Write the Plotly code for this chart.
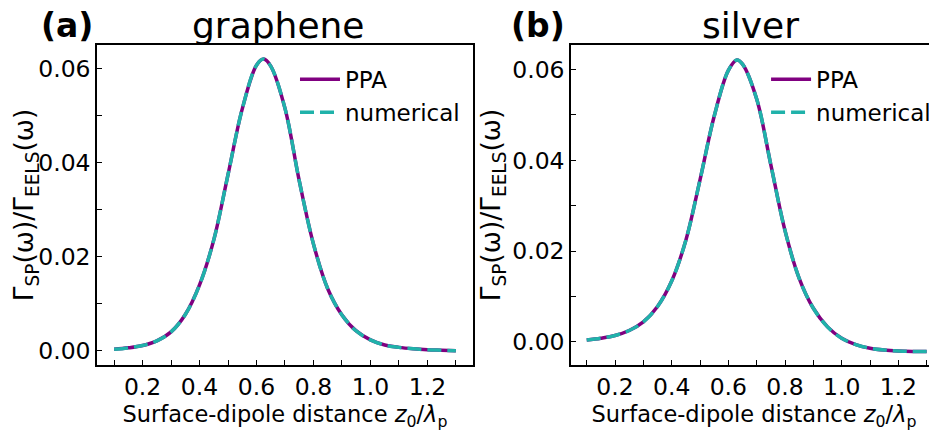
import plotly.graph_objects as go

# values
x_graphene = [0.10, 0.15, 0.20, 0.25, 0.30, 0.35, 0.40, 0.45, 0.50, 0.55, 0.60, 0.625,
              0.65, 0.70, 0.75, 0.80, 0.85, 0.90, 0.95, 1.00, 1.05, 1.10, 1.15, 1.20, 1.25, 1.30]
ppa_graphene = [0.0003, 0.0006, 0.0011, 0.0021, 0.0040, 0.0077, 0.0140, 0.0236, 0.0375, 0.0515,
                0.0608, 0.0621, 0.0606, 0.0516, 0.0362, 0.0227, 0.0132, 0.0076, 0.0042, 0.0023,
                0.0012, 0.0007, 0.0004, 0.0002, 0.0001, 0.0000]
num_graphene = [0.0003, 0.0006, 0.0011, 0.0021, 0.0040, 0.0077, 0.0140, 0.0236, 0.0375, 0.0515,
                0.0608, 0.0621, 0.0606, 0.0516, 0.0362, 0.0227, 0.0132, 0.0076, 0.0042, 0.0023,
                0.0012, 0.0007, 0.0004, 0.0002, 0.0001, 0.0000]

x_silver = [0.10, 0.15, 0.20, 0.25, 0.30, 0.35, 0.40, 0.45, 0.50, 0.55, 0.60, 0.63,
            0.65, 0.70, 0.75, 0.80, 0.85, 0.90, 0.95, 1.00, 1.05, 1.10, 1.15, 1.20, 1.25, 1.30]
ppa_silver = [0.0004, 0.0008, 0.0014, 0.0025, 0.0044, 0.0078, 0.0134, 0.0224, 0.0357, 0.0497,
              0.0598, 0.0621, 0.0612, 0.0535, 0.0390, 0.0245, 0.0140, 0.0074, 0.0033, 0.0008,
              -0.0006, -0.0014, -0.0018, -0.0020, -0.0021, -0.0021]
num_silver = [0.0004, 0.0008, 0.0014, 0.0025, 0.0044, 0.0078, 0.0134, 0.0224, 0.0357, 0.0497,
              0.0598, 0.0621, 0.0612, 0.0535, 0.0390, 0.0245, 0.0140, 0.0074, 0.0033, 0.0008,
              -0.0006, -0.0014, -0.0018, -0.0020, -0.0021, -0.0021]

panel_titles = ["graphene", "silver"]
panel_tags = ["(a)", "(b)"]

FONT = "DejaVu Sans"
PURPLE = "#800080"
TEAL = "#20B2AA"

fig = go.Figure()

for i, (xs, ppa, num) in enumerate([(x_graphene, ppa_graphene, num_graphene),
                                     (x_silver, ppa_silver, num_silver)]):
    xa = "x" if i == 0 else "x2"
    ya = "y" if i == 0 else "y2"
    lg = "legend" if i == 0 else "legend2"
    fig.add_trace(go.Scatter(x=xs, y=ppa, mode="lines", name="PPA",
                             line=dict(color=PURPLE, width=3.5, shape="spline"),
                             xaxis=xa, yaxis=ya, legend=lg, legendgroup="ppa%d" % i))
    fig.add_trace(go.Scatter(x=xs, y=num, mode="lines", name="numerical",
                             line=dict(color=TEAL, width=3.5, dash="14px,6px", shape="spline"),
                             xaxis=xa, yaxis=ya, legend=lg, legendgroup="num%d" % i))

common = dict(showline=True, linecolor="black", linewidth=1.5, ticks="inside", ticklen=5,
              tickwidth=1.3, tickcolor="black", showgrid=False, zeroline=False,
              automargin=False, tickfont=dict(family=FONT, size=23.5, color="black"))

xlabel = "Surface-dipole distance <i>z</i><sub>0</sub>/<i>λ</i><sub>p</sub>"
ylabel = "Γ<sub>SP</sub>(ω)/Γ<sub>EELS</sub>(ω)"

xmin = dict(dtick=0.1, tick0=0, ticks="inside", ticklen=5, tickwidth=1.3, tickcolor="black")
ymin = dict(dtick=0.01, tick0=0, ticks="inside", ticklen=5, tickwidth=1.3, tickcolor="black")

# the page body adds an 8px offset, so margins are shifted by -8
fig.update_layout(
    width=937, height=431,
    margin=dict(l=89, r=8, t=37, b=74),
    paper_bgcolor="white", plot_bgcolor="white",
    font=dict(family=FONT, color="black"),
    xaxis=dict(common, domain=[0, 0.4476], range=[0.04, 1.36], dtick=0.2, tick0=0,
               tickformat=".1f", mirror=True, minor=xmin,
               title=dict(text=xlabel, font=dict(size=22.5), standoff=4)),
    yaxis=dict(common, domain=[0, 1], range=[-0.00305, 0.0651], dtick=0.02, tick0=0,
               tickformat=".2f", mirror=True, minor=ymin,
               title=dict(text=ylabel, font=dict(size=26.5), standoff=4)),
    xaxis2=dict(common, domain=[0.5643, 1], range=[0.0446, 1.3365], dtick=0.2, tick0=0,
                tickformat=".1f", mirror=True, minor=xmin, anchor="y2",
                title=dict(text=xlabel, font=dict(size=22.5), standoff=4)),
    yaxis2=dict(common, domain=[0, 1], range=[-0.0051, 0.0654], dtick=0.02, tick0=0,
                tickformat=".2f", mirror=False, minor=ymin, anchor="x2",
                title=dict(text=ylabel, font=dict(size=26.5), standoff=4)),
    legend=dict(x=0.2357, y=0.96, xanchor="left", yanchor="top", bgcolor="rgba(0,0,0,0)",
                font=dict(size=23), tracegroupgap=0, itemwidth=40),
    legend2=dict(x=0.7965, y=0.96, xanchor="left", yanchor="top", bgcolor="rgba(0,0,0,0)",
                 font=dict(size=23), tracegroupgap=0, itemwidth=40),
)

for txt, xc in zip(panel_titles, [0.2155, 0.7774]):
    fig.add_annotation(text=txt, x=xc, y=1.0625, xref="paper", yref="paper",
                       xanchor="center", yanchor="middle", showarrow=False,
                       font=dict(family=FONT, size=36, color="black"))
for txt, xc in zip(panel_tags, [-0.0357, 0.525]):
    fig.add_annotation(text="<b>%s</b>" % txt, x=xc, y=1.0625, xref="paper", yref="paper",
                       xanchor="center", yanchor="middle", showarrow=False,
                       font=dict(family=FONT, size=33, color="black"))

fig.write_html("out.html")
